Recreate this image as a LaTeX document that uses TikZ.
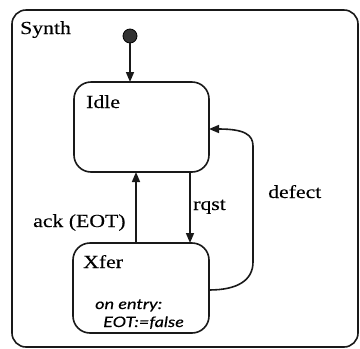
\documentclass[tikz,border=0pt]{standalone}
\usepackage{fontspec}
\setmainfont{Liberation Serif}
\newfontfamily\heavyfont{Liberation Serif}[FakeBold=0.25]
\newfontfamily\entryfont{Lato}[FakeBold=0.3]
\usetikzlibrary{arrows.meta}
\newcommand{\wide}[1]{\scalebox{1.18}[1]{#1}}
\newcommand{\wider}[1]{\scalebox{1.25}[1]{#1}}
\tikzset{
  line/.style={line width=1.6bp, draw=black!90},
  arr/.style={line, -{Triangle[width=8bp,length=10bp]}},
  lbl/.style={inner sep=0pt, anchor=base west, font=\heavyfont\fontsize{18.5}{21}\selectfont},
  entry/.style={inner sep=0pt, anchor=base west, font=\entryfont\itshape\fontsize{14.5}{16}\selectfont},
  statebox/.style={line width=1.6bp, draw=black!90, rounded corners=17bp}
}
\begin{document}
\begin{tikzpicture}[x=1bp,y=-1bp]
\useasboundingbox (0,0) rectangle (360,349);
\draw[statebox, rounded corners=14bp] (12,10) rectangle (358,347);
\node[lbl] (synth) at (20,34) {\wide{Synth}};
% states
\draw[statebox] (74,82) rectangle (209,172);
\coordinate (idleN) at (130,82);
\coordinate (idleS1) at (136,172);
\coordinate (idleS2) at (190,172);
\coordinate (idleE) at (209,129);
\node[lbl] (idle) at (86,108) {\wide{Idle}};
\draw[statebox] (73,243) rectangle (209,333);
\coordinate (xferN1) at (136,243);
\coordinate (xferN2) at (190,243);
\coordinate (xferE) at (209,290);
\node[lbl] (xfer) at (83,268) {\wide{Xfer}};
\node[entry] (entry1) at (95,309) {\wider{on entry:}};
\node[entry] (entry2) at (103,327) {\wider{EOT:=false}};
% initial
\node[circle, fill=black!80, draw=black, line width=0.8bp, minimum size=14bp, inner sep=0pt] (init) at (130,36) {};
\draw[arr] (init) -- (idleN);
% transitions
\draw[arr] (xferN1) -- (idleS1);
\draw[arr] (idleS2) -- (xferN2);
\draw[arr] (xferE) .. controls (238,290) and (253,280) .. (253,262) -- (253,146) .. controls (253,135) and (245,129) .. (idleE);
\node[lbl] (ack) at (33,227) {\wide{ack (EOT)}};
\node[lbl] (rqst) at (193,210) {\wide{rqst}};
\node[lbl] (defect) at (268,198) {\wide{defect}};
\end{tikzpicture}
\end{document}
